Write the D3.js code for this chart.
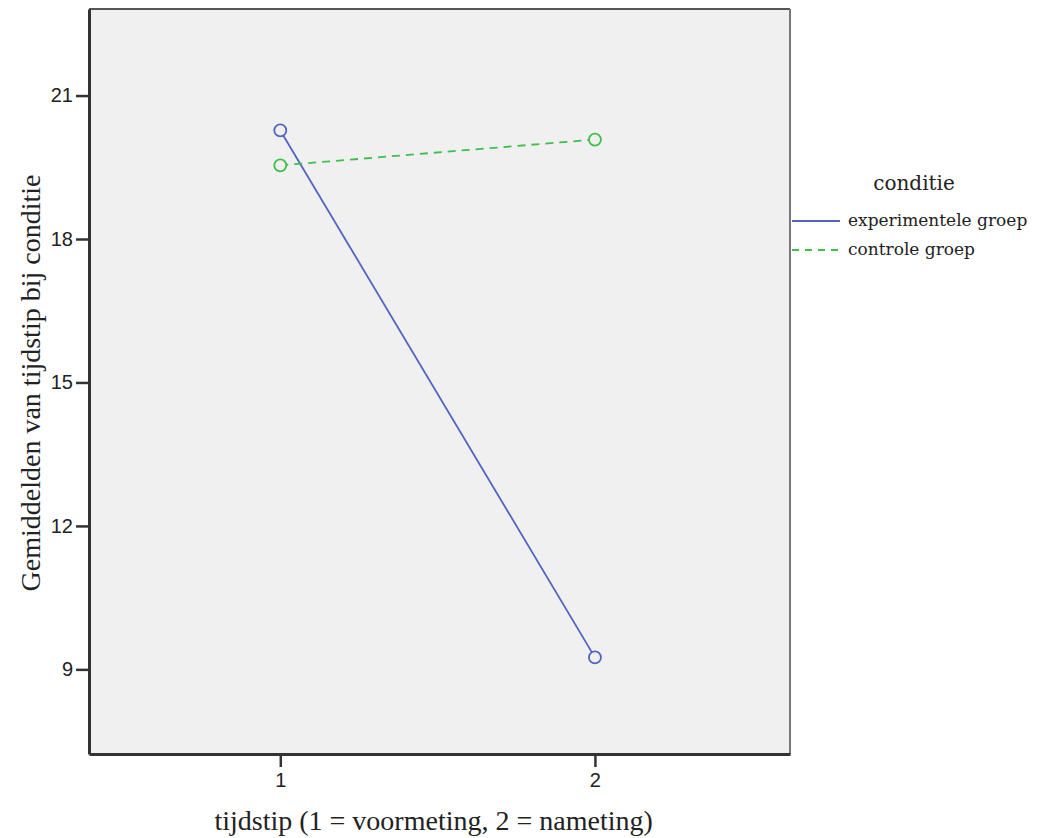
<!DOCTYPE html>
<html>
<head>
<meta charset="utf-8">
<script src="https://cdn.jsdelivr.net/npm/d3@7"></script>
<style>
  body { margin: 0; background: #fff; }
</style>
</head>
<body>
<div id="chart"></div>
<script>
// tijdstip categories and group means
const tijdstip = [1, 2];
const groepen = ["experimentele groep", "controle groep"];
const experimenteel = [20.27, 9.25];
const controle = [19.54, 20.08];
const yTicks = [9, 12, 15, 18, 21];

const W = 1056, H = 838;
const margin = { top: 9, left: 89, right: 266, bottom: 84 };
const width = W - margin.left - margin.right,
      height = H - margin.top - margin.bottom;

const svg = d3.select("#chart").append("svg")
  .attr("width", W)
  .attr("height", H);

const g = svg.append("g")
  .attr("transform", "translate(" + margin.left + "," + margin.top + ")");

// scales
const x = d3.scaleLinear().domain([0.392, 2.62]).range([0, width]);
const y = d3.scaleLinear().domain([7.23, 22.81]).range([height, 0]);

// plot background
g.append("rect")
  .attr("width", width)
  .attr("height", height)
  .attr("fill", "#f0f0f0")
  .attr("stroke", "none");

// frame: top/right lighter, left/bottom dark
g.append("line").attr("x1", 0).attr("x2", width).attr("y1", 0).attr("y2", 0)
  .attr("stroke", "#555").attr("stroke-width", 2);
g.append("line").attr("x1", width).attr("x2", width).attr("y1", 0).attr("y2", height)
  .attr("stroke", "#777").attr("stroke-width", 2);

// axes
const yAxis = d3.axisLeft(y).tickValues(yTicks).tickSize(13).tickSizeOuter(0).tickPadding(3);
const xAxis = d3.axisBottom(x).tickValues(tijdstip).tickFormat(d3.format("d"))
  .tickSize(13).tickSizeOuter(0).tickPadding(6);

const yG = g.append("g").call(yAxis);
const xG = g.append("g").attr("transform", "translate(0," + height + ")").call(xAxis);

[yG, xG].forEach(a => {
  a.attr("font-size", 20).attr("font-family", "Arial, 'Liberation Sans', sans-serif");
  a.select(".domain").attr("stroke", "#333").attr("stroke-width", 3);
  a.selectAll(".tick line").attr("stroke", "#333").attr("stroke-width", 2.5);
  a.selectAll(".tick text").attr("fill", "#222");
});

// axis titles
svg.append("text")
  .attr("x", margin.left + x(1.5) - 4)
  .attr("y", 830)
  .attr("text-anchor", "middle")
  .attr("font-family", "'Liberation Serif', 'Times New Roman', serif")
  .attr("font-size", 28)
  .attr("fill", "#222")
  .text("tijdstip (1 = voormeting, 2 = nameting)");

svg.append("text")
  .attr("transform", "translate(40," + 383 + ") rotate(-90)")
  .attr("text-anchor", "middle")
  .attr("font-family", "'Liberation Serif', 'Times New Roman', serif")
  .attr("font-size", 28)
  .attr("fill", "#222")
  .text("Gemiddelden van tijdstip bij conditie");

// lines
const series = [
  { name: groepen[0], values: experimenteel, color: "#5264c0", dash: null },
  { name: groepen[1], values: controle, color: "#3dbf4a", dash: "8,6" }
];

const line = d3.line()
  .x((d, i) => x(tijdstip[i]))
  .y(d => y(d));

series.forEach(s => {
  g.append("path")
    .datum(s.values)
    .attr("d", line)
    .attr("fill", "none")
    .attr("stroke", s.color)
    .attr("stroke-width", 1.8)
    .attr("stroke-dasharray", s.dash);

  g.selectAll(null)
    .data(s.values)
    .enter().append("circle")
    .attr("cx", (d, i) => x(tijdstip[i]))
    .attr("cy", d => y(d))
    .attr("r", 6)
    .attr("fill", "#f0f0f0")
    .attr("stroke", s.color)
    .attr("stroke-width", 1.8);
});

// legend
const lg = svg.append("g").attr("transform", "translate(" + (margin.left + width) + ",0)");
lg.append("text")
  .attr("x", 124)
  .attr("y", 190)
  .attr("text-anchor", "middle")
  .attr("font-family", "'DejaVu Serif', serif")
  .attr("font-size", 20)
  .attr("fill", "#222")
  .text("conditie");

series.forEach((s, i) => {
  const ly = 221 + i * 29;
  lg.append("line")
    .attr("x1", 2).attr("x2", 50)
    .attr("y1", ly).attr("y2", ly)
    .attr("stroke", s.color)
    .attr("stroke-width", 2.2)
    .attr("stroke-dasharray", s.dash ? "7,6" : null);
  lg.append("text")
    .attr("x", 58)
    .attr("y", ly + 5)
    .attr("font-family", "'DejaVu Serif', serif")
    .attr("font-size", 17)
    .attr("fill", "#222")
    .text(s.name);
});
</script>
</body>
</html>
